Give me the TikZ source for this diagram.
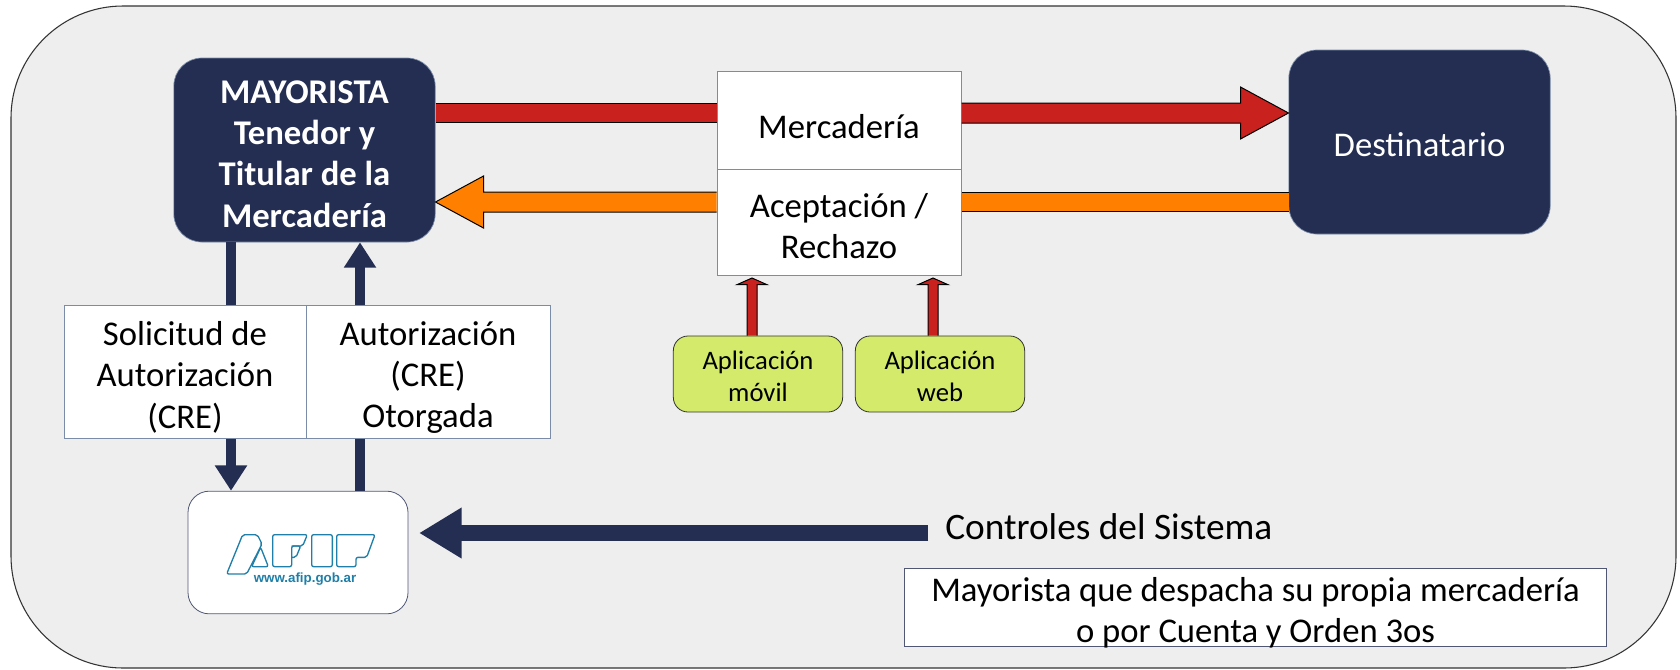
\documentclass[tikz,border=0pt]{standalone}
\usepackage{fontspec}
\setmainfont{Carlito}
\newfontfamily\logofont{Liberation Sans}
\usepackage{xcolor}
\usetikzlibrary{arrows.meta}
\usetikzlibrary{calc}
\definecolor{navy}{HTML}{242D52}
\definecolor{boxline}{HTML}{7A8CA8}
\definecolor{redfill}{HTML}{C9211E}
\definecolor{orangefill}{HTML}{FF8000}
\definecolor{greenfill}{HTML}{D4EA6B}
\definecolor{panel}{HTML}{EEEEEE}
\definecolor{logoblue}{HTML}{1F7FA8}
\newcommand{\pad}[1]{{}\\[#1]}
\tikzset{x=.75pt,y=-.75pt,
 big/.style={font=\fontsize{26}{31}\selectfont,align=center,inner sep=0pt},
 actor/.style={big,fill=navy,draw=boxline,line width=.5pt,text=white,rounded corners=21pt},
 paper/.style={big,fill=white,draw=boxline,line width=.75pt},
 app/.style={font=\fontsize{20}{24}\selectfont,align=center,inner sep=0pt,fill=greenfill,draw=black!80,line width=.6pt,rounded corners=11pt,minimum width=127pt,minimum height=57pt},
 flow/.style={draw=black,double=#1,line width=.75pt,double distance=14pt},
 block/.style args={#1/#2/#3/#4}{draw=black,fill=#4,line width=.75pt,
   to path={($(\tikztostart)!#1!90:(\tikztotarget)$)
     -- ($(\tikztotarget)!#2!(\tikztostart)!#1!90:(\tikztotarget)$)
     -- ($(\tikztotarget)!#2!(\tikztostart)!#3!90:(\tikztotarget)$)
     -- (\tikztotarget)
     -- ($(\tikztotarget)!#2!(\tikztostart)!#3!-90:(\tikztotarget)$)
     -- ($(\tikztotarget)!#2!(\tikztostart)!#1!-90:(\tikztotarget)$)
     -- ($(\tikztostart)!#1!-90:(\tikztotarget)$)}},
 link/.style={draw=navy,line width=8pt},
 linktip/.style={link,-{Triangle[length=19pt,width=23pt]}},
 logo/.style={draw=logoblue,line width=1pt,line join=round,rounded corners=1.5pt},
}
\begin{document}
\begin{tikzpicture}
        \useasboundingbox (0,0) rectangle (1680,669);
        \draw [fill=panel, draw=black!80, line width=.8pt, rounded corners=84pt] (11,6) rectangle (1676,668);

        \node [actor, minimum width=196pt, minimum height=138pt] (may) at (304.5,150) {\pad{-8pt}\bfseries MAYORISTA\\\bfseries Tenedor y\\\bfseries Titular de la\\\bfseries Mercadería};
        \node [actor, minimum width=196pt, minimum height=138pt] (dest) at (1419.5,142) {\pad{-8.5pt}Destinatario};
        \node [paper, minimum width=183pt, minimum height=73pt] (mer) at (839,120.5) {\pad{-4pt}Mercadería};
        \node [paper, minimum width=183pt, minimum height=79.5pt] (ace) at (839,222) {\pad{-7pt}Aceptación /\\Rechazo};
        \node [paper, minimum width=181.5pt, minimum height=100pt] (sol) at (185,372) {\pad{-5pt}Solicitud de\\Autorización\\(CRE)};
        \node [paper, minimum width=183pt, minimum height=100pt] (aut) at (428,372) {\pad{-5pt}Autorización\\(CRE)\\Otorgada};
        \node [app] (movil) at (758,374) {\pad{-6pt}Aplicación\\móvil};
        \node [app] (web) at (940,374) {\pad{-6pt}Aplicación\\web};
        \node [big, fill=white, draw=navy!80, line width=.6pt, rounded corners=16pt, minimum width=165pt, minimum height=92pt] (afip) at (298,552.5) {};
        \node [big, anchor=west, font=\fontsize{28}{34}\selectfont] (ctl) at (945,527) {Controles del Sistema};
        \node [paper, draw=navy!80, minimum width=527pt, minimum height=59pt, label={[big,yshift=-4pt]center:{Mayorista que despacha su propia mercadería\\o por Cuenta y Orden 3os}}] (note) at (1255.5,607.5) {};

        \coordinate (rowred) at (600,113);
        \coordinate (roworange) at (600,202);
        \coordinate (rowctl) at (600,533);
        \coordinate (colsol) at (231,270);
        \coordinate (colaut) at (360,270);
        \coordinate (tipmovil) at (752,278);
        \coordinate (tipweb) at (933,278);
        \coordinate (ctlend) at (928,533);

        \draw [flow=redfill] (may.east |- rowred) -- (mer.west |- rowred);
        \draw [block=7.5pt/36pt/19.5pt/redfill] (mer.east |- rowred) to (dest.west |- rowred);
        \draw [block=7.5pt/36pt/19.5pt/orangefill] (ace.west |- roworange) to (may.east |- roworange);
        \draw [flow=orangefill] (dest.west |- roworange) -- (ace.east |- roworange);
        \draw [link] (may.south -| colsol) -- (sol.north -| colsol);
        \draw [linktip] (sol.south -| colsol) -- (afip.north -| colsol);
        \draw [link] (afip.north -| colaut) -- (aut.south -| colaut);
        \draw [linktip] (aut.north -| colaut) -- (may.south -| colaut);
        \draw [block=3.75pt/5pt/11.25pt/redfill] (movil.north -| tipmovil) to (tipmovil);
        \draw [block=3.75pt/5pt/11.25pt/redfill] (web.north -| tipweb) to (tipweb);
        \draw [draw=navy, line width=12pt, shorten >=8pt, -{Triangle[length=32pt,width=36pt]}] (ctlend) -- (afip.east |- rowctl);

        \begin{scope}[shift={(170,470)},x=.25pt,y=-.25pt]
            \draw [logo] (170,312) -- (218,194) -- (262,194) -- (276,222) -- (230,312) -- cycle;
            \draw [logo] (272,232) -- (295,290) -- (245,290) -- cycle;
            \draw [logo] (308,290) -- (308,194) -- (412,194) -- (398,228) -- (365,228) -- (365,290) -- cycle;
            \draw [logo] (365,228) -- (392,228) -- (378,262) -- (365,262);
            \draw [logo] (425,194) rectangle (487,290);
            \draw [logo] (500,290) -- (500,194) -- (615,194) -- (590,262) -- (558,262) -- (558,290) -- cycle;
        \end{scope}
        \node [font=\logofont\bfseries\fontsize{10}{12}\selectfont, text=logoblue, inner sep=0pt] (afipurl) at (305,579) {www.afip.gob.ar};
    \end{tikzpicture}
\end{document}
